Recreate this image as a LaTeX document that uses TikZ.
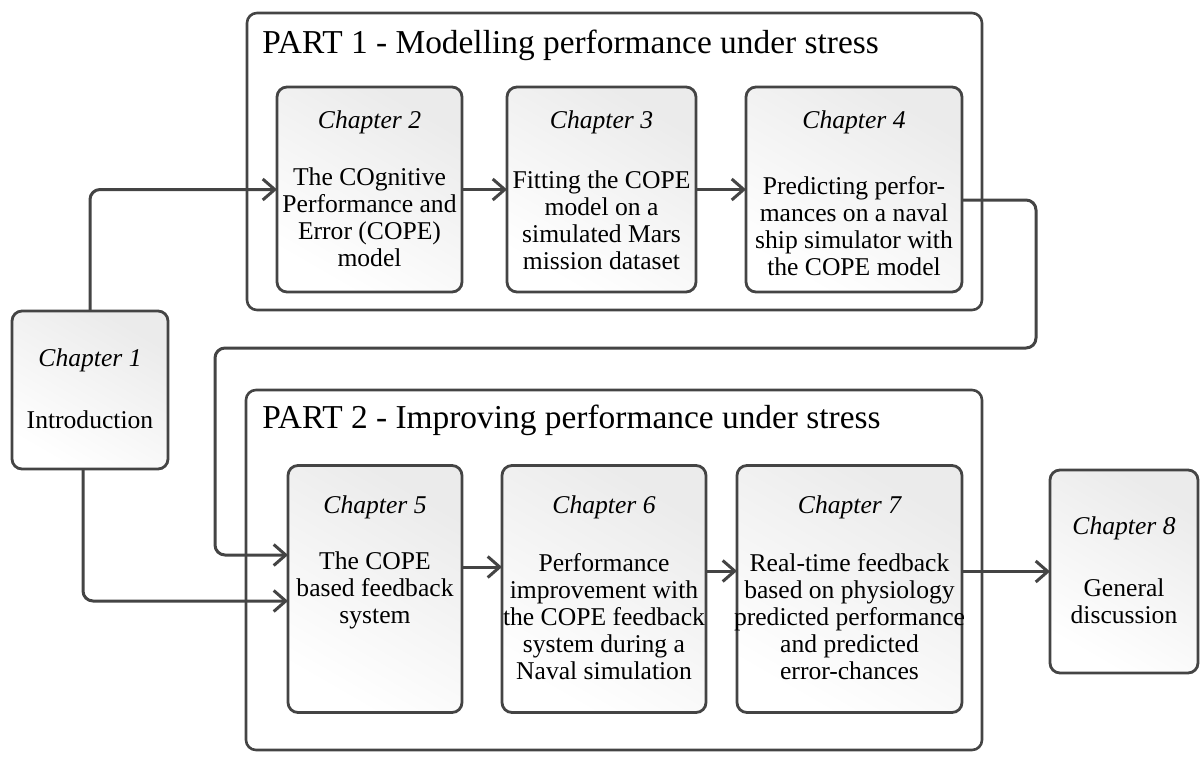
\documentclass[tikz,border=0pt]{standalone}
\usepackage{fontspec}
\setmainfont{Liberation Serif}
\usetikzlibrary{arrows.meta}
\definecolor{edge}{HTML}{444444}
\begin{document}
\begin{tikzpicture}[x=0.5pt,y=-0.5pt,
  partbox/.style={draw=edge, line width=1.3pt, rounded corners=5pt, inner sep=0pt, outer sep=0pt},
  chbox/.style={draw=edge, line width=1.4pt, rounded corners=5pt, inner sep=0pt, outer sep=0pt,
    top color=black!8, bottom color=white, shading angle=-30},
  parttitle/.style={anchor=west, inner sep=0pt, font=\fontsize{16.7}{19}\selectfont},
  chlabel/.style={inner sep=0pt, font=\fontsize{12.8}{13.5}\selectfont\itshape},
  chbody/.style={inner sep=0pt, align=center, font=\fontsize{12.8}{13.5}\selectfont},
  arr/.style={draw=edge, line width=1.5pt, rounded corners=5pt,
    -{Straight Barb[length=6pt,width=10.5pt]}}
]
\useasboundingbox (0,0) rectangle (1200,756);

% the two parts
\node[partbox, minimum width=367.5pt, minimum height=148.5pt] (p1) at (614.5,161.5) {};
\node[parttitle] (p1t) at (262,45) {PART 1 - Modelling performance under stress};
\node[partbox, minimum width=368pt, minimum height=180pt] (p2) at (614,570) {};
\node[parttitle] (p2t) at (262,420) {PART 2 - Improving performance under stress};

% chapter boxes
\node[chbox, minimum width=78pt,    minimum height=79pt]    (c1) at (90,390) {};
\node[chbox, minimum width=92.5pt,  minimum height=102.5pt] (c2) at (369.5,189.5) {};
\node[chbox, minimum width=94.5pt,  minimum height=102.5pt] (c3) at (601.5,189.5) {};
\node[chbox, minimum width=108pt,   minimum height=102.5pt] (c4) at (854,189.5) {};
\node[chbox, minimum width=87pt,    minimum height=123.5pt] (c5) at (375,589) {};
\node[chbox, minimum width=102pt,   minimum height=123.5pt] (c6) at (604,589) {};
\node[chbox, minimum width=112.5pt, minimum height=123.5pt] (c7) at (849.5,589) {};
\node[chbox, minimum width=74pt,    minimum height=101.5pt] (c8) at (1124,571.5) {};

% chapter texts
\node[chlabel] (c1l) at (90,360) {Chapter 1};
\node[chbody]  (c1b) at (90,420) {Introduction};

\node[chlabel] (c2l) at (369.5,122) {Chapter 2};
\node[chbody]  (c2b) at (369.5,217) {The COgnitive\\Performance and\\Error (COPE)\\model};

\node[chlabel] (c3l) at (601.5,122) {Chapter 3};
\node[chbody]  (c3b) at (601.5,220) {Fitting the COPE\\model on a\\simulated Mars\\mission dataset};

\node[chlabel] (c4l) at (854,122) {Chapter 4};
\node[chbody]  (c4b) at (854,226) {Predicting perfor-\\mances on a naval\\ship simulator with\\the COPE model};

\node[chlabel] (c5l) at (375,507) {Chapter 5};
\node[chbody]  (c5b) at (375,590) {The COPE\\based feedback\\system};

\node[chlabel] (c6l) at (604,507) {Chapter 6};
\node[chbody]  (c6b) at (604,617) {Performance\\improvement with\\the COPE feedback\\system during a\\Naval simulation};

\node[chlabel] (c7l) at (849.5,507) {Chapter 7};
\node[chbody]  (c7b) at (849.5,617) {Real-time feedback\\based on physiology\\predicted performance\\and predicted\\error-chances};

\node[chlabel] (c8l) at (1124,528) {Chapter 8};
\node[chbody]  (c8b) at (1124,601) {General\\discussion};

% connectors
\coordinate (loopA) at (1036,200);
\coordinate (loopB) at (215,348);
\draw[arr] (c1.north) |- (c2.west);
\draw[arr] (c2.east) -- (c3.west);
\draw[arr] (c3.east) -- (c4.west);
\draw[arr] (c4.east |- loopA) -- (loopA) |- (loopB) |- (c5.west |- 0,555);
\draw[arr] (c1.south -| 83,0) |- (c5.west |- 0,601);
\draw[arr] (c5.east |- 0,567) -- (c6.west |- 0,567);
\draw[arr] (c6.east |- 0,571) -- (c7.west |- 0,571);
\draw[arr] (c7.east |- c8.west) -- (c8.west);
\end{tikzpicture}
\end{document}
